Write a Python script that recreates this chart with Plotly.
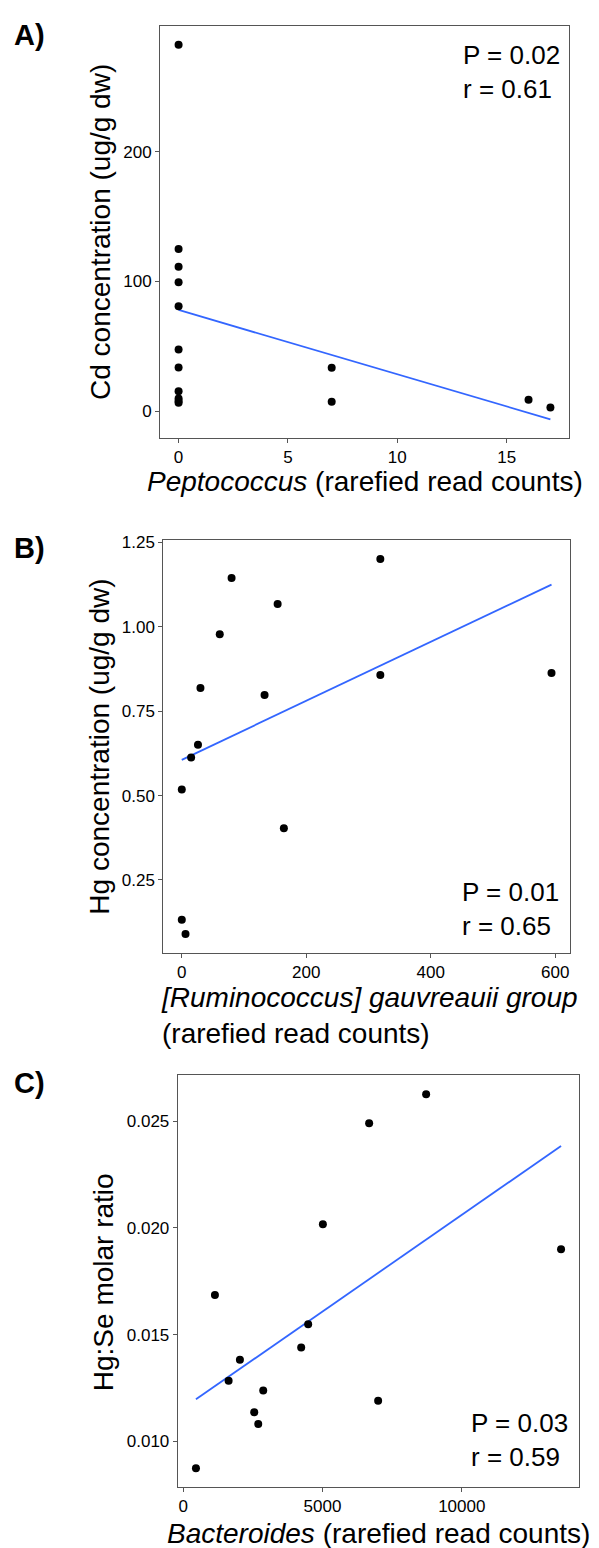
import plotly.graph_objects as go

W, H = 599, 1548

# ---------------- Data ----------------
# Panel A: Peptococcus vs Cd
a_x = [0, 0, 0, 0, 0, 0, 0, 0, 0, 0, 0, 7, 7, 16, 17]
a_y = [282.7, 125.1, 111.3, 99.3, 80.9, 47.4, 33.5, 15.3, 9.7, 7.7, 6.4, 33.3, 7.2, 8.7, 2.8]
a_fit_x = [0, 17]
a_fit_y = [78.0, -6.4]
a_xticks = [0, 5, 10, 15]
a_yticks = [0, 100, 200]
a_stats = ["P = 0.02", "r = 0.61"]

# Panel B: [Ruminococcus] gauvreauii group vs Hg
b_x = [0, 0, 6, 15, 26, 30, 61, 80, 133, 154, 164, 319, 319, 594]
b_y = [0.518, 0.132, 0.090, 0.613, 0.651, 0.819, 0.978, 1.145, 0.798, 1.068, 0.403, 1.201, 0.857, 0.863]
b_fit_x = [0, 594]
b_fit_y = [0.606, 1.125]
b_xticks = [0, 200, 400, 600]
b_yticks = [0.25, 0.50, 0.75, 1.00, 1.25]
b_stats = ["P = 0.01", "r = 0.65"]

# Panel C: Bacteroides vs Hg:Se molar ratio
c_x = [456, 1137, 1628, 2034, 2548, 2692, 2871, 4234, 4485, 5013, 6674, 6997, 8720, 13564]
c_y = [0.00874, 0.01686, 0.01284, 0.01382, 0.01137, 0.01081, 0.01238, 0.01440,
       0.01549, 0.02017, 0.02491, 0.01190, 0.02627, 0.01900]
c_fit_x = [456, 13564]
c_fit_y = [0.01197, 0.02384]
c_xticks = [0, 5000, 10000]
c_yticks = [0.010, 0.015, 0.020, 0.025]
c_stats = ["P = 0.03", "r = 0.59"]

FONT = "Arial, Liberation Sans, sans-serif"
LINE_BLUE = "#3366FF"
BORDER = "#555555"


def px_x(p):
    return p / W


def px_y(p):
    return 1 - p / H


def expand(vals, frac=0.05):
    lo, hi = min(vals), max(vals)
    d = (hi - lo) * frac
    return [lo - d, hi + d]


fig = go.Figure()

panels = [
    dict(x=a_x, y=a_y, fx=a_fit_x, fy=a_fit_y, xa="x", ya="y"),
    dict(x=b_x, y=b_y, fx=b_fit_x, fy=b_fit_y, xa="x2", ya="y2"),
    dict(x=c_x, y=c_y, fx=c_fit_x, fy=c_fit_y, xa="x3", ya="y3"),
]
for p in panels:
    fig.add_trace(go.Scatter(x=p["fx"], y=p["fy"], mode="lines",
                             line=dict(color=LINE_BLUE, width=1.8),
                             xaxis=p["xa"], yaxis=p["ya"], showlegend=False,
                             hoverinfo="skip"))
    fig.add_trace(go.Scatter(x=p["x"], y=p["y"], mode="markers",
                             marker=dict(color="black", size=8),
                             xaxis=p["xa"], yaxis=p["ya"], showlegend=False))

axis_common = dict(showline=True, linecolor=BORDER, linewidth=1, mirror=True,
                   ticks="outside", ticklen=4, tickwidth=1, tickcolor=BORDER,
                   showgrid=False, zeroline=False,
                   tickfont=dict(family=FONT, size=17, color="black"))

fig.update_layout(
    width=W, height=H,
    margin=dict(l=0, r=0, t=0, b=0),
    paper_bgcolor="white", plot_bgcolor="white",
    showlegend=False,
    # Panel A
    xaxis=dict(domain=[px_x(160), px_x(569)], anchor="y",
               range=expand(a_x + a_fit_x), tickvals=a_xticks, tickformat="d", **axis_common),
    yaxis=dict(domain=[px_y(433), px_y(19)], anchor="x",
               range=expand(a_y + a_fit_y), tickvals=a_yticks, tickformat="d", **axis_common),
    # Panel B
    xaxis2=dict(domain=[px_x(163.3), px_x(570)], anchor="y2",
                range=expand(b_x + b_fit_x), tickvals=b_xticks, tickformat="d", **axis_common),
    yaxis2=dict(domain=[px_y(950), px_y(535.7)], anchor="x2",
                range=expand(b_y + b_fit_y), tickvals=b_yticks, tickformat=".2f", **axis_common),
    # Panel C
    xaxis3=dict(domain=[px_x(177.7), px_x(579.3)], anchor="y3",
                range=expand(c_x + c_fit_x), tickvals=c_xticks, tickformat="d", **axis_common),
    yaxis3=dict(domain=[px_y(1486.7), px_y(1073.3)], anchor="x3",
                range=expand(c_y + c_fit_y), tickvals=c_yticks, tickformat=".3f", **axis_common),
)

ann = []
title_font = dict(family=FONT, size=28, color="black")

# Panel letters
for txt, yc in [("A)", 28.5), ("B)", 543.5), ("C)", 1080.5)]:
    ann.append(dict(text=f"<b>{txt}</b>", xref="paper", yref="paper",
                    x=px_x(12), y=px_y(yc), xanchor="left", yanchor="middle",
                    showarrow=False, font=dict(family=FONT, size=29, color="black")))

# Y titles
for txt, xc, yc in [("Cd concentration (ug/g dw)", 101, 226),
                    ("Hg concentration (ug/g dw)", 100, 743),
                    ("Hg:Se molar ratio", 103, 1281)]:
    ann.append(dict(text=txt, xref="paper", yref="paper", x=px_x(xc), y=px_y(yc),
                    xanchor="center", yanchor="middle", textangle=-90,
                    showarrow=False, font=title_font))

# X titles
ann.append(dict(text="<i>Peptococcus</i> (rarefied read counts)", xref="paper", yref="paper",
                x=px_x(365), y=px_y(477), xanchor="center", yanchor="middle",
                showarrow=False, font=title_font))
ann.append(dict(text="<i>[Ruminococcus] gauvreauii group</i><br>(rarefied read counts)",
                xref="paper", yref="paper", x=px_x(369.5), y=px_y(1013),
                xanchor="center", yanchor="middle", align="left",
                showarrow=False, font=title_font))
ann.append(dict(text="<i>Bacteroides</i> (rarefied read counts)", xref="paper", yref="paper",
                x=px_x(378.5), y=px_y(1533), xanchor="center", yanchor="middle",
                showarrow=False, font=title_font))

# Stats text
stat_font = dict(family=FONT, size=26, color="black")
for stats, xr, yc in [(a_stats, 561.7, 65.3), (b_stats, 560.7, 906.5), (c_stats, 570, 1439.5)]:
    ann.append(dict(text="<br>".join(stats), xref="paper", yref="paper",
                    x=px_x(xr), y=px_y(yc), xanchor="right", yanchor="middle", align="left",
                    showarrow=False, font=stat_font))

fig.update_layout(annotations=ann)
fig.write_html("out.html")
